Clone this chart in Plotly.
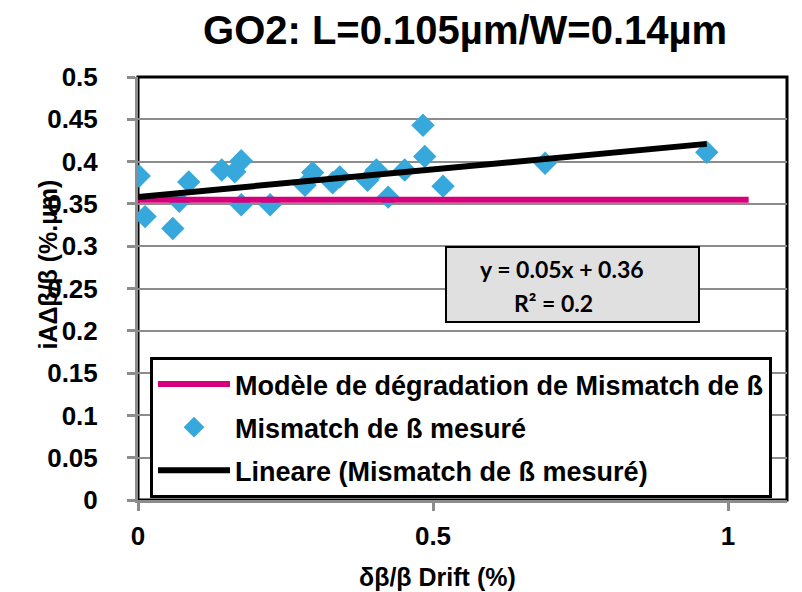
import numpy as np
import plotly.graph_objects as go

drift = [0.002, 0.012, 0.059, 0.070, 0.086, 0.142, 0.164, 0.175, 0.175, 0.224,
         0.283, 0.296, 0.330, 0.342, 0.389, 0.404, 0.424, 0.452, 0.483, 0.486,
         0.517, 0.690, 0.964]
mismatch = [0.383, 0.335, 0.321, 0.353, 0.376, 0.390, 0.388, 0.401, 0.349, 0.349,
            0.372, 0.387, 0.375, 0.382, 0.378, 0.390, 0.358, 0.390, 0.443, 0.406,
            0.371, 0.398, 0.411]

# degradation model (flat)
model_x = [0, 1.035]
model_y = [0.355, 0.355]

y_ticks = [0, 0.05, 0.1, 0.15, 0.2, 0.25, 0.3, 0.35, 0.4, 0.45, 0.5]
x_ticks = [0, 0.5, 1]
x_labels = ["0", "0.5", "1"]

FONT = "Liberation Sans"
GRAY = "#8c8c8c"

# linear trend of the measured points
slope, intercept = np.polyfit(drift, mismatch, 1)
trend_x = np.array([0, max(drift)])
trend_y = slope * trend_x + intercept

fig = go.Figure()

fig.add_trace(go.Scatter(
    x=drift, y=mismatch, mode="markers", name="Mismatch de ß mesuré",
    marker=dict(symbol="diamond", size=18, color="#36a8dc", line=dict(width=0)),
    legendrank=2, legendgroup="b"
))
fig.add_trace(go.Scatter(
    x=model_x, y=model_y, mode="lines", name="Modèle de dégradation de Mismatch de ß",
    line=dict(color="#d6007a", width=6), legendrank=1, legendgroup="a"
))
fig.add_trace(go.Scatter(
    x=trend_x, y=trend_y, mode="lines", name="Lineare (Mismatch de ß mesuré)",
    line=dict(color="black", width=6), legendrank=3, legendgroup="c"
))

# equation box
fig.add_annotation(
    x=0.737, y=0.2547, xref="x", yref="y", showarrow=False, text=" ",
    width=249, height=71, bgcolor="#e0e0e0", bordercolor="black", borderwidth=2
)
eq_font = dict(family="Lato", size=23, color="black", weight="bold")
fig.add_annotation(x=0.719, y=0.273, xref="x", yref="y", showarrow=False,
                   text="y = 0.05x + 0.36", font=eq_font)
fig.add_annotation(x=0.705, y=0.233, xref="x", yref="y", showarrow=False,
                   text="R² = 0.2", font=eq_font)

# axis titles
title_font = dict(family=FONT, size=25, color="black", weight="bold")
fig.add_annotation(x=0.461, y=-0.182, xref="paper", yref="paper", showarrow=False,
                   xanchor="center", yanchor="middle",
                   text="δβ/β Drift (%)", font=title_font)
fig.add_annotation(x=-0.139, y=0.556, xref="paper", yref="paper", showarrow=False,
                   xanchor="center", yanchor="middle",
                   text="iAΔβ/β (%.µm)", textangle=-90, font=title_font)

# plot frame (top/right black, axes drawn on top in gray)
fig.add_shape(type="rect", xref="paper", yref="paper", x0=0, x1=1, y0=0, y1=1,
              line=dict(color="black", width=3), layer="below")

tick_font = dict(family=FONT, size=26, color="black", weight="bold")

fig.update_layout(
    width=794, height=584,
    margin=dict(l=130, r=15, t=69, b=92),
    paper_bgcolor="white", plot_bgcolor="white",
    title=dict(text="GO2: L=0.105µm/W=0.14µm", x=0.504, xref="paper", xanchor="center",
               y=1 - 22 / 584, yanchor="middle",
               font=dict(family=FONT, size=40, color="black", weight="bold")),
    font=dict(family=FONT, color="black"),
    showlegend=True,
    legend=dict(
        x=0.0185, y=0.338, xanchor="left", yanchor="top",
        bgcolor="white", bordercolor="black", borderwidth=3,
        font=dict(family=FONT, size=27, color="black", weight="bold"),
        itemwidth=72, tracegroupgap=5, traceorder="grouped"
    ),
    xaxis=dict(
        range=[0, 1.1], tickvals=x_ticks, ticktext=x_labels,
        showgrid=False, zeroline=False,
        showline=True, linecolor=GRAY, linewidth=3,
        ticks="outside", ticklen=8, tickwidth=3, tickcolor=GRAY,
        ticklabelstandoff=3, tickfont=tick_font
    ),
    yaxis=dict(
        range=[0, 0.5], tickvals=y_ticks,
        showgrid=True, gridcolor=GRAY, gridwidth=2, zeroline=False,
        showline=True, linecolor=GRAY, linewidth=3,
        ticks="outside", ticklen=8, tickwidth=3, tickcolor=GRAY,
        ticklabelstandoff=24, tickfont=tick_font
    ),
)

fig.write_html("out.html")
